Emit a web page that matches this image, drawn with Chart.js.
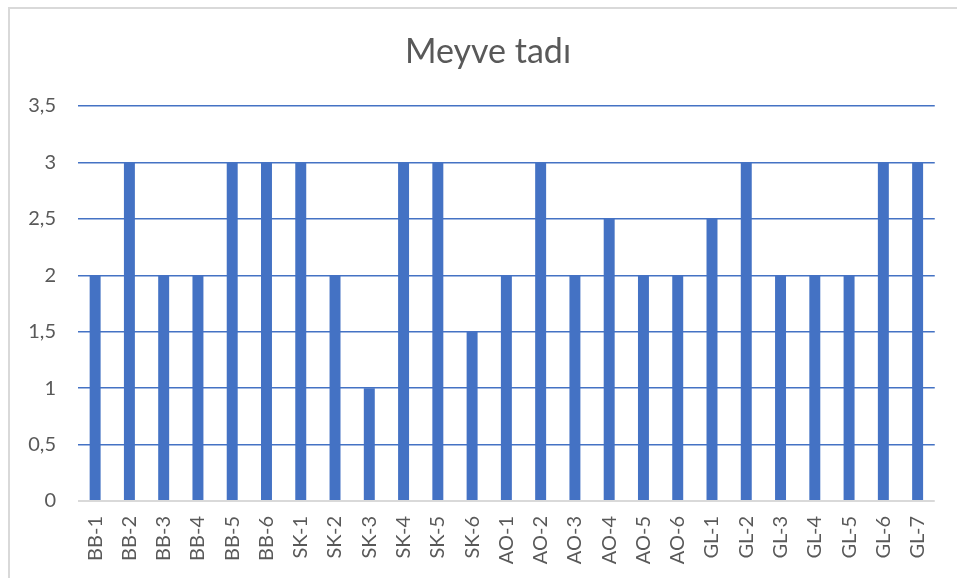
<!DOCTYPE html>
<html>
<head>
<meta charset="utf-8">
<script src="https://cdn.jsdelivr.net/npm/chart.js@4"></script>
<style>
  body { margin: 0; background: #fff; }
  #wrap { position: relative; width: 957px; height: 578px; overflow: hidden; }
  #frame { position: absolute; left: 8px; top: 7px; width: 1000px; height: 700px; border-left: 2px solid #D9D9D9; border-top: 2px solid #D9D9D9; }
  #chart { position: absolute; left: 0; top: 0; }
</style>
</head>
<body>
<div id="wrap">
  <div id="frame"></div>
  <canvas id="chart" width="957" height="578"></canvas>
</div>
<script>
const labels = ['BB-1', 'BB-2', 'BB-3', 'BB-4', 'BB-5', 'BB-6',
	'SK-1', 'SK-2', 'SK-3', 'SK-4', 'SK-5', 'SK-6',
	'AO-1', 'AO-2', 'AO-3', 'AO-4', 'AO-5', 'AO-6',
	'GL-1', 'GL-2', 'GL-3', 'GL-4', 'GL-5', 'GL-6', 'GL-7'];
const tadi = [2, 3, 2, 2, 3, 3,
	3, 2, 1, 3, 3, 1.5,
	2, 3, 2, 2.5, 2, 2,
	2.5, 3, 2, 2, 2, 3, 3];
const yMax = 3.5;
const yStep = 0.5;

const textColor = '#595959';
const fontFamily = 'Lato, "Open Sans", sans-serif';

// move the title box so it centres over the framed area, not the whole canvas
const shiftTitle = {
	id: 'shiftTitle',
	beforeDraw: function (chart) {
		const t = chart.titleBlock;
		if (t) {
			t.left = 19;
			t.right = chart.width;
		}
	}
};

new Chart('chart', {
	type: 'bar',
	data: {
		labels: labels,
		datasets: [{
			label: 'Meyve tadı',
			data: tadi,
			backgroundColor: '#4472C4',
			barPercentage: 0.32,
			categoryPercentage: 1
		}]
	},
	options: {
		responsive: false,
		animation: false,
		layout: { padding: { left: 0, right: 19, top: 0, bottom: 0 } },
		plugins: {
			legend: { display: false },
			tooltip: { enabled: false },
			title: {
				display: true,
				text: 'Meyve tadı',
				color: textColor,
				font: { family: fontFamily, size: 34, weight: 'normal', lineHeight: 1.2 },
				padding: { top: 32, bottom: 33.2 }
			}
		},
		scales: {
			x: {
				grid: { display: false, drawTicks: false },
				border: { display: false },
				ticks: {
					color: textColor,
					font: { family: fontFamily, size: 20 },
					minRotation: 90,
					maxRotation: 90,
					autoSkip: false,
					padding: 15
				},
				afterFit: function (scale) { scale.height = 77; }
			},
			y: {
				min: 0,
				max: yMax,
				ticks: {
					stepSize: yStep,
					color: textColor,
					font: { family: fontFamily, size: 20 },
					padding: 22,
					callback: function (v) { return String(v).replace('.', ','); }
				},
				grid: {
					drawTicks: false,
					color: function (ctx) { return ctx.tick && ctx.tick.value === 0 ? '#D9D9D9' : '#4472C4'; },
					lineWidth: function (ctx) { return ctx.tick && ctx.tick.value === 0 ? 2 : 1.5; }
				},
				border: { display: false },
				afterFit: function (scale) { scale.width = 78; }
			}
		}
	},
	plugins: [shiftTitle]
});
</script>
</body>
</html>
